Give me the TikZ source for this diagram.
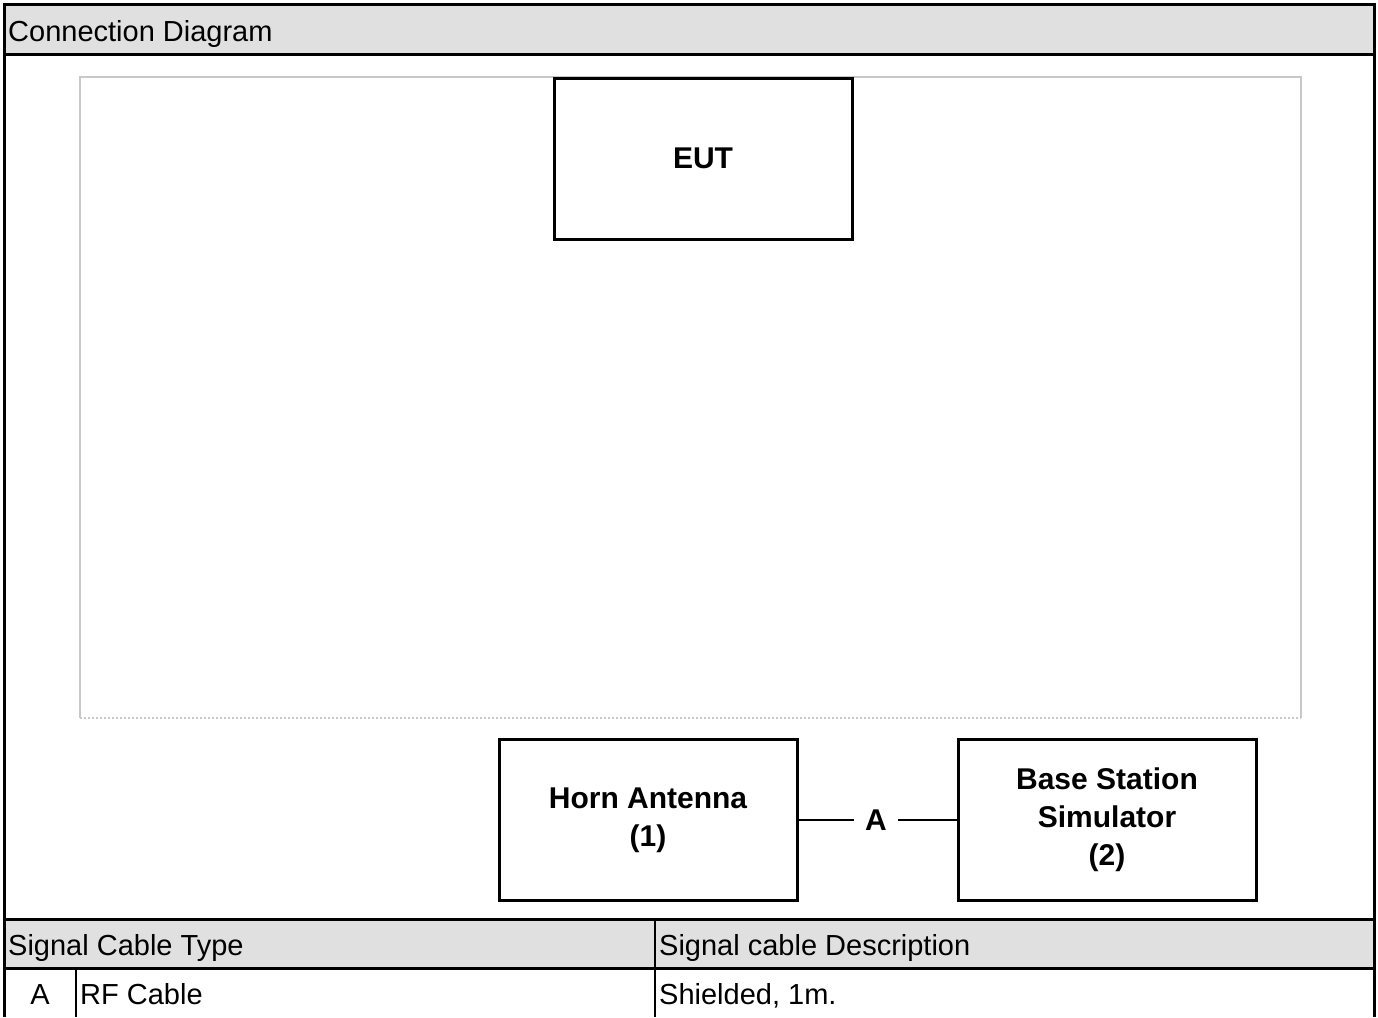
\documentclass[tikz,border=0pt]{standalone}
\usepackage{fontspec}
\setmainfont{Liberation Sans}
\usepackage{tikz}
\usetikzlibrary{positioning}

\definecolor{bandgray}{HTML}{E0E0E0}
\definecolor{roomgray}{HTML}{C8C8C8}

\tikzset{
    unitbox/.style={draw, line width=3pt, minimum width=298pt, minimum height=161pt,
        align=center, font=\fontsize{30}{38}\selectfont\bfseries},
    cell/.style={anchor=base west, inner sep=0pt, font=\fontsize{29}{34}\selectfont},
    frame/.style={line width=3pt},
}

\begin{document}
\begin{tikzpicture}[x=1pt, y=-1pt]
        \useasboundingbox (0,0) rectangle (1378,1017);

        % grey bands
        \fill[bandgray] (4,4) rectangle (1374,54);
        \fill[bandgray] (4,919) rectangle (1374,968);

        % frame and table rules
        \draw[frame] (4,1017) -- (4,4) -- (1374,4) -- (1374,1017);
        \draw[frame] (4,54) -- (1374,54);
        \draw[frame] (4,919) -- (1374,919);
        \draw[frame] (4,968) -- (1374,968);
        \draw[line width=2pt] (655,919) -- (655,1017);
        \draw[line width=2pt] (76,968) -- (76,1017);

        % test area
        \draw[roomgray, line width=2pt] (80,718) -- (80,77) -- (1301,77) -- (1301,718);
        \draw[roomgray, line width=2pt, dotted] (80,718) -- (1301,718);

        \node[cell] at (8,41) (title) {Connection Diagram};
        \node[cell] at (8,955) (typehead) {Signal Cable Type};
        \node[cell] at (659,955) (deschead) {Signal cable Description};
        \node[cell, anchor=base] at (40,1004) (typeA) {A};
        \node[cell] at (80,1004) (typeAname) {RF Cable};
        \node[cell] at (659,1004) (typeAdesc) {Shielded, 1m.};

        \node[unitbox] at (703,158.5) (eut) {EUT};
        \node[unitbox] at (648,820) (horn) {Horn Antenna\\(1)};
        \node[unitbox] at (1107,820) (bss) {Base Station\\Simulator\\(2)};

        \node[font=\fontsize{30}{34}\selectfont\bfseries, inner sep=11pt] at (876,820) (cableA) {A};
        \draw[line width=2.5pt] (horn) -- (cableA);
        \draw[line width=2.5pt] (cableA) -- (bss);
    \end{tikzpicture}
\end{document}
